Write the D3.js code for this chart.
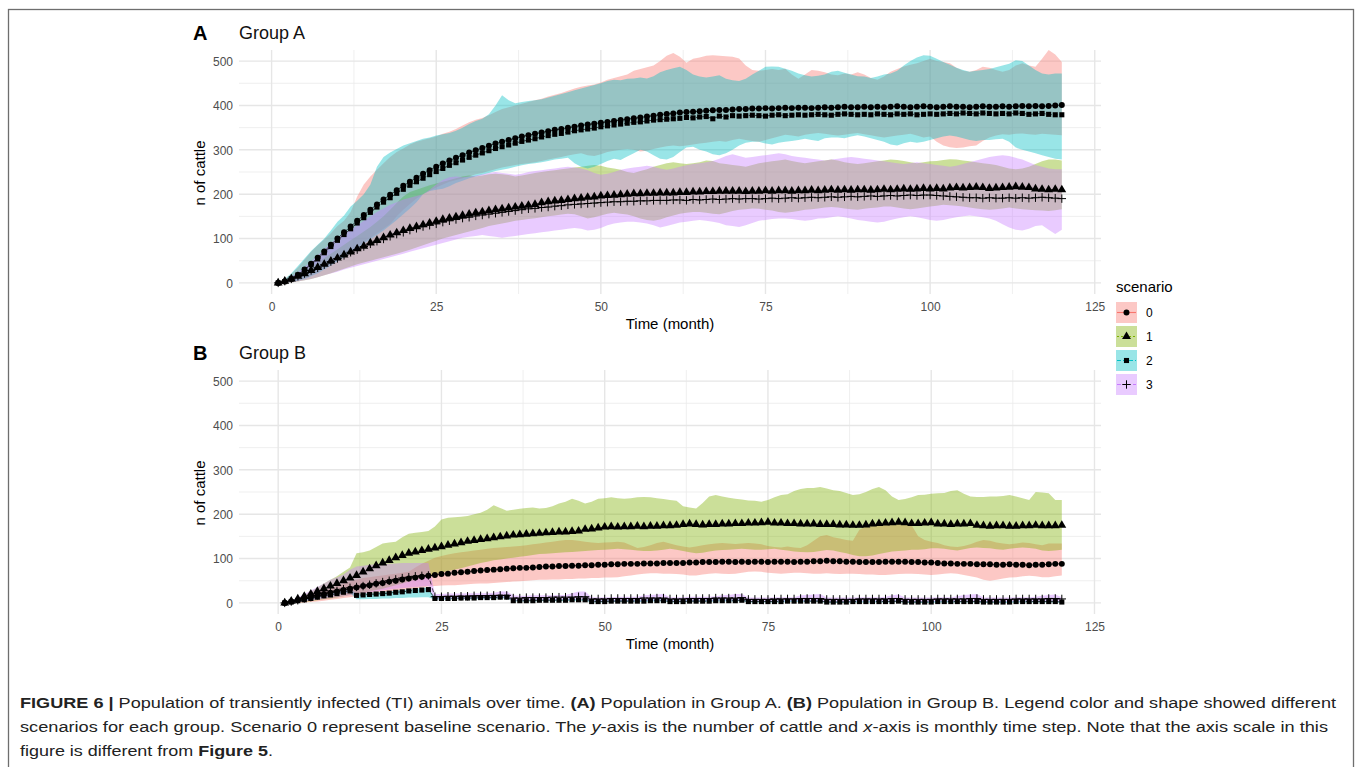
<!DOCTYPE html>
<html>
<head>
<meta charset="utf-8">
<title>Figure 6 - TI population</title>
<script src="https://cdnjs.cloudflare.com/ajax/libs/d3/7.8.5/d3.min.js"></script>
<style>
  body { margin: 0; background: #fff; }
  svg { display: block; font-family: "Liberation Sans", Arial, sans-serif; }
</style>
</head>
<body>
<script>
// months 1..120 on the x axis
var months = d3.range(1, 121);
var scenarios = ["0", "1", "2", "3"];
var colors = ["#F8766D", "#7CAE00", "#00BFC4", "#C77CFF"];
var yTicks = [0, 100, 200, 300, 400, 500];
var xTicks = [0, 25, 50, 75, 100, 125];

// ---- Group A: means ----
var aMean0 = [0,3,9,18,30,43,57,71,86,100, 114,127,140,153,165,177,188,199,209,219,
  228,237,246,254,262,269,276,282,288,294, 299,304,309,314,318,322,326,330,333,336,
  339,342,345,347,350,352,355,357,359,361, 363,365,367,369,371,373,375,377,379,381,
  382,384,385,386,387,388,389,390,390,391, 392,392,393,393,394,393,394,395,394,395,
  395,394,395,396,395,396,397,396,396,397, 396,397,396,397,398,397,396,397,398,397,
  396,397,398,397,397,396,397,398,397,397, 398,397,398,399,398,399,398,399,400,401];
var aMean1 = [0,4,9,15,21,28,35,42,49,56, 63,70,77,83,90,96,102,108,113,118,
  123,127,131,135,139,143,146,149,152,155, 158,160,163,165,167,169,171,173,175,177,
  181,183,185,186,188,190,191,193,194,196, 197,198,199,200,201,201,202,202,203,203,
  203,204,204,205,205,206,206,207,207,207, 207,206,207,207,208,207,208,208,207,208,
  208,209,208,209,210,209,210,209,210,210, 209,210,211,210,211,212,211,212,213,212,
  213,212,214,215,214,215,216,215,213,214, 215,216,217,216,215,212,211,210,211,210];
var aMean2 = [0,3,9,18,29,41,54,68,82,96, 109,122,135,147,159,171,182,192,202,211,
  220,228,236,244,251,258,265,271,277,283, 288,293,298,303,307,311,315,319,322,325,
  329,332,335,337,340,343,345,347,349,352, 354,356,358,360,362,363,365,367,368,369,
  370,371,373,372,374,375,370,376,374,377, 376,377,378,377,376,378,379,377,378,379,
  378,379,380,379,378,380,381,380,379,380, 379,381,380,379,381,380,381,379,380,381,
  380,381,382,381,383,382,381,383,382,381, 382,381,383,382,380,381,382,380,379,379];
var aMean3 = [0,4,9,15,21,28,34,41,48,55, 62,69,75,82,88,94,99,105,110,114,
  119,123,127,130,133,137,140,143,146,148, 151,153,155,157,159,161,163,165,167,168,
  170,171,173,174,176,177,178,179,180,181, 182,183,183,184,184,185,185,186,186,186,
  187,187,186,188,187,188,189,188,189,190, 189,190,190,189,190,191,190,191,192,191,
  192,193,192,193,194,193,194,195,194,195, 196,195,196,197,196,197,198,197,198,198,
  197,196,195,194,193,192,192,191,192,191, 191,192,191,192,191,192,193,192,191,190];

// ---- Group A: ribbon bounds ----
var aLo0 = [0,0,2,5,10,16,24,33,42,52, 62,72,82,92,102,112,122,133,150,165,
  178,190,200,208,215,222,228,232,236,240, 245,248,252,256,260,263,266,268,270,272,
  275,278,281,284,287,290,292,288,286,290, 295,298,300,302,300,296,298,302,305,308,
  310,308,310,312,314,316,318,320,318,322, 325,322,320,318,322,326,330,334,332,330,
  334,336,338,336,334,332,334,336,338,335, 333,330,328,330,332,334,336,332,328,330,
  318,310,306,304,305,308,310,320,328,332, 335,334,336,337,335,334,336,335,334,333];
var aHi0 = [0,8,20,35,52,70,85,98,112,128, 140,160,195,222,240,255,270,284,295,303,
  312,318,322,326,330,336,341,347,355,362, 368,372,378,385,392,396,400,404,408,412,
  415,420,424,428,433,438,442,445,447,452, 458,462,466,470,478,482,486,490,500,512,
  518,510,496,505,508,512,513,512,511,510, 506,490,480,478,480,482,480,483,470,460,
  470,480,478,475,470,468,472,470,475,470, 462,458,465,476,482,488,492,495,500,505,
  500,498,495,485,478,476,480,487,485,480, 476,480,490,495,490,487,505,525,515,498];
var aLo1 = [0,0,1,3,6,9,13,17,22,27, 32,37,42,46,50,54,58,62,66,70,
  75,80,85,90,95,100,104,108,112,116, 120,124,128,131,134,137,140,142,144,146,
  148,150,152,154,156,155,150,145,148,152, 156,158,156,154,150,145,142,140,143,148,
  152,156,158,160,160,158,156,155,158,162, 165,166,168,167,165,163,160,158,160,162,
  165,166,168,170,171,170,168,166,165,167, 169,170,172,172,170,168,166,168,170,172,
  174,176,175,174,172,170,168,166,165,166, 168,170,168,166,165,164,163,162,164,166];
var aHi1 = [0,6,12,20,28,37,46,56,66,76, 86,96,106,116,126,138,150,165,180,195,
  205,210,215,220,224,228,232,236,240,242, 240,242,245,246,245,243,240,242,245,248,
  250,252,254,256,258,260,262,264,266,264, 260,258,255,250,248,252,256,262,266,270,
  272,270,268,270,272,276,275,270,268,266, 264,262,266,270,272,274,276,278,275,272,
  270,272,274,276,278,276,272,270,268,270, 272,274,276,278,277,275,272,270,272,274,
  275,277,279,278,276,274,272,270,268,266, 262,258,256,258,262,268,274,278,278,276];
var aLo2 = [0,0,2,5,9,15,22,30,39,48, 58,68,78,88,98,108,118,130,142,155,
  168,182,200,207,210,212,218,225,230,236, 240,244,248,252,255,258,262,265,268,270,
  272,275,278,280,282,270,262,258,262,268, 275,280,277,285,292,300,296,288,280,278,
  284,295,305,307,300,296,290,288,292,300, 310,316,318,318,314,312,316,318,320,322,
  325,322,320,326,328,328,326,330,333,330, 326,322,318,312,310,315,318,316,318,322,
  326,330,332,330,326,322,320,322,322,324, 325,318,305,300,296,292,288,284,280,278];
var aHi2 = [0,9,22,38,55,72,86,100,118,138, 152,172,185,200,222,262,284,294,302,310,
  315,320,325,328,332,335,338,343,350,358, 365,370,380,400,423,412,405,408,410,412,
  414,418,422,426,430,434,438,442,446,450, 455,458,457,460,461,463,461,466,475,480,
  484,487,480,470,465,463,465,468,460,457, 455,460,470,478,487,488,487,483,478,472,
  468,465,467,470,476,478,474,470,466,465, 462,465,470,472,478,490,500,508,513,512,
  505,498,492,485,480,476,478,480,482,486, 490,494,502,500,490,480,472,470,472,472];
var aLo3 = [0,0,1,3,6,9,13,17,21,25, 30,34,38,42,46,50,54,58,62,66,
  70,74,78,82,86,90,94,98,102,104, 106,108,106,104,102,104,106,108,110,112,
  114,116,118,120,122,124,122,118,120,124, 130,134,136,138,138,136,134,130,125,128,
  132,136,138,140,142,140,138,135,130,128, 126,130,135,140,142,144,145,145,144,142,
  140,142,145,146,148,150,148,145,142,140, 138,136,138,142,145,148,150,148,145,142,
  140,142,145,148,150,152,150,148,145,140, 132,125,120,118,122,128,130,120,110,120];
var aHi3 = [0,6,14,24,36,48,62,76,90,102, 112,120,130,140,150,160,168,176,182,188,
  192,196,200,210,222,232,238,240,238,240, 242,245,248,250,248,246,244,246,250,252,
  254,256,258,260,262,260,258,254,248,244, 246,250,255,258,260,262,264,262,258,255,
  258,262,265,268,270,272,275,280,286,290, 286,282,284,286,288,290,292,290,286,284,
  282,280,278,276,278,280,282,284,282,280, 278,276,274,272,270,268,270,272,270,268,
  266,264,262,264,268,272,276,280,284,286, 288,286,282,278,272,266,262,258,256,256];

// ---- Group B: means ----
var bMean0 = [0,3,6,10,13,17,20,23,26,29, 32,35,38,40,43,45,48,50,53,55,
  57,59,61,63,65,66,68,69,70,72, 73,74,75,76,77,78,79,79,80,81,
  82,82,83,83,84,84,85,85,86,86, 87,87,88,88,88,89,89,89,90,90,
  90,90,91,91,92,92,92,93,93,92, 93,92,93,93,92,93,93,93,92,93,
  93,94,94,95,94,94,93,93,92,92, 92,92,93,93,93,93,92,92,91,91,
  90,89,89,88,88,88,87,87,87,86, 86,87,86,86,85,86,86,87,88,88];
var bMean1 = [0,4,9,15,20,26,32,38,44,50, 56,62,70,77,84,90,96,102,107,112,
  115,118,121,124,127,130,133,136,139,141, 143,145,147,149,151,153,154,155,156,157,
  158,159,160,160,161,162,166,167,169,171, 172,171,172,172,173,172,173,173,174,174,
  175,177,178,177,176,177,177,178,178,179, 179,180,180,181,182,180,180,179,179,178,
  178,178,177,177,177,176,176,175,175,176, 178,179,180,181,182,181,179,179,180,181,
  178,178,177,178,178,179,175,174,173,174, 174,173,173,174,174,175,174,174,174,175];
var bMean2 = [0,2,5,7,10,13,16,18,21,24, 27,17,18,19,20,21,22,24,25,27,
  28,29,30,10,10,10,10,11,11,11, 12,12,12,13,13,5,5,5,5,6,
  6,6,6,6,7,7,7,3,3,3, 4,4,4,4,4,4,5,5,5,3,
  3,3,4,4,4,4,5,5,5,5, 6,3,3,3,3,3,3,4,4,4,
  4,4,4,2,2,2,2,3,3,3, 3,3,3,3,4,2,2,2,2,2,
  3,3,3,3,3,3,3,2,2,2, 2,2,3,3,3,3,3,3,3,2];
var bMean3 = [0,3,6,10,13,17,20,24,27,31, 34,36,38,41,44,47,50,53,56,58,
  60,61,62,14,14,15,15,15,15,16, 16,16,17,17,17,11,11,12,12,12,
  12,13,13,13,13,14,14,9,9,9, 10,10,10,10,10,11,11,11,11,9,
  9,9,10,10,10,10,11,11,11,11, 12,8,8,8,8,9,9,9,9,10,
  10,10,10,8,8,8,8,8,9,9, 9,9,9,10,10,8,8,8,8,8,
  9,9,9,9,9,10,10,8,8,8, 8,8,9,9,9,9,9,10,10,9];

// ---- Group B: ribbon bounds ----
var bLo0 = [0,0,0,1,2,3,5,7,9,11, 13,15,17,19,21,23,25,27,29,31,
  33,35,37,38,39,40,40,41,42,43, 44,44,45,46,47,48,49,50,51,52,
  52,53,53,54,54,55,55,56,56,57, 57,58,60,62,64,66,67,67,66,66,
  65,64,62,62,64,66,67,66,65,66, 68,70,71,70,68,67,66,67,68,68,
  67,66,66,67,66,65,66,66,65,64, 64,63,63,64,65,66,66,65,64,63,
  64,66,67,66,63,60,57,52,50,52, 55,57,58,60,61,60,58,58,60,62];
var bHi0 = [0,4,8,13,18,23,28,33,38,44, 48,52,56,58,60,62,64,66,68,70,
  80,88,95,102,106,109,112,114,116,118, 120,122,124,125,126,127,128,130,132,134,
  136,138,140,142,142,140,138,136,135,136, 137,138,136,130,124,126,130,135,138,134,
  130,127,125,127,130,132,134,135,134,133, 134,135,134,132,128,126,125,127,125,124,
  130,140,150,153,148,145,142,140,165,172, 175,177,178,179,178,176,175,150,142,138,
  135,130,127,126,128,132,138,142,140,136, 134,132,134,136,135,132,130,134,134,134];
var bLo1 = [0,0,1,2,4,6,8,10,12,15, 18,20,23,26,29,32,36,40,44,48,
  52,56,60,64,68,72,75,78,82,86, 90,93,96,98,100,102,104,106,108,110,
  111,112,113,114,115,116,117,118,119,120, 121,122,121,120,118,117,117,118,120,122,
  120,117,114,112,113,116,118,119,120,121, 122,121,120,120,121,122,120,118,116,115,
  114,115,117,119,118,115,112,108,105,105, 107,110,113,116,117,118,120,120,121,123,
  123,122,120,118,121,124,125,124,123,121, 120,122,124,125,124,122,118,117,118,120];
var bHi1 = [0,4,10,18,26,35,44,52,60,70, 80,112,114,118,126,134,136,138,148,156,
  158,160,162,172,188,192,193,194,196,200, 203,210,220,214,208,210,212,214,215,213,
  214,218,224,228,235,230,224,228,235,236, 238,236,235,236,238,239,238,236,234,232,
  230,218,215,213,225,240,243,240,237,235, 233,231,230,228,232,238,243,245,252,257,
  259,259,261,258,254,252,248,243,245,250, 257,261,254,240,232,234,238,243,244,246,
  247,248,252,254,246,240,239,239,240,240, 241,243,240,236,232,250,249,247,232,232];
var bLo2 = [0,0,2,4,7,10,13,15,18,21, 23,8,8,9,9,10,10,11,11,12,
  12,13,13,7,7,7,8,8,8,8, 9,9,9,10,10,3,3,3,3,4,
  4,4,4,4,5,5,5,1,1,1, 2,2,2,2,2,2,3,3,3,1,
  1,1,2,2,2,2,3,3,3,3, 4,1,1,1,1,1,1,2,2,2,
  2,2,2,0,0,0,0,1,1,1, 1,1,1,1,2,0,0,0,0,0,
  1,1,1,1,1,1,1,0,0,0, 0,0,1,1,1,1,1,1,1,0];
var bHi2 = [0,3,6,9,12,15,18,22,25,28, 30,21,22,23,24,25,26,28,29,31,
  32,33,34,12,12,12,13,13,13,14, 14,14,15,15,15,7,7,7,8,8,
  8,8,9,9,9,9,9,6,6,6, 7,7,7,7,7,7,8,8,8,6,
  6,6,7,7,7,7,8,8,8,8, 9,5,5,5,5,5,6,6,6,6,
  6,6,6,4,4,4,4,5,5,5, 5,5,5,6,6,4,4,4,4,4,
  5,5,5,5,5,5,5,4,4,4, 4,4,5,5,5,5,5,5,5,4];
var bLo3 = [0,0,1,3,5,7,9,11,13,15, 17,20,22,24,26,28,30,32,33,35,
  36,37,38,8,8,9,9,9,9,10, 10,10,10,11,11,5,5,5,6,6,
  6,6,6,7,7,7,7,3,3,3, 4,4,4,4,4,4,5,5,5,3,
  3,3,4,4,4,4,5,5,5,5, 6,3,3,3,3,3,3,4,4,4,
  4,4,4,2,2,2,2,3,3,3, 3,3,3,3,4,2,2,2,2,2,
  3,3,3,3,3,3,3,2,2,2, 2,2,3,3,3,3,3,3,3,2];
var bHi3 = [0,5,12,20,28,36,44,52,58,64, 75,82,84,86,87,88,88,89,90,90,
  90,90,90,20,20,21,21,21,22,22, 22,22,23,26,26,17,16,16,17,17,
  17,17,18,18,22,26,26,13,13,13, 13,14,14,14,14,17,18,19,20,13,
  13,13,14,14,14,14,15,17,18,20, 20,12,12,12,12,13,13,13,13,17,
  18,19,20,12,12,12,12,12,13,13, 13,13,14,17,19,12,12,12,12,12,
  13,13,13,15,18,19,20,12,12,12, 12,12,13,13,13,14,16,18,19,13];

var W = 1360, H = 767;
var svg = d3.select("body").append("svg")
    .attr("width", W)
    .attr("height", H);

// figure frame
svg.append("rect")
    .attr("x", 8.5).attr("y", 9.5)
    .attr("width", 1345).attr("height", 800)
    .attr("fill", "none")
    .attr("stroke", "#6e6e6e")
    .attr("stroke-width", 1.3);

function plusPath(s) {
  return "M" + (-s) + ",0H" + s + "M0," + (-s) + "V" + s;
}
var symbols = [
  d3.symbol().type(d3.symbolCircle).size(28)(),
  d3.symbol().type(d3.symbolTriangle).size(34)(),
  d3.symbol().type(d3.symbolSquare).size(26)(),
  plusPath(4.2)
];
var dashes = [null, "2,2", "4,2", "4,4"];

function drawPanel(p) {
  var x = d3.scaleLinear().domain(p.xDomain).range([239, 1101]);
  var y = d3.scaleLinear().domain([-25, 525]).range([p.top + 244, p.top]);
  var g = svg.append("g");

  // minor grid
  var xMinor = d3.range(12.5, 125, 25);
  var yMinor = d3.range(50, 500, 100);
  g.selectAll(".gxm").data(xMinor).enter().append("line")
      .attr("x1", function(d) { return x(d); }).attr("x2", function(d) { return x(d); })
      .attr("y1", p.top).attr("y2", p.top + 244)
      .attr("stroke", "#ebebeb").attr("stroke-width", 0.8);
  g.selectAll(".gym").data(yMinor).enter().append("line")
      .attr("x1", 239).attr("x2", 1101)
      .attr("y1", function(d) { return y(d); }).attr("y2", function(d) { return y(d); })
      .attr("stroke", "#ebebeb").attr("stroke-width", 0.8);
  // major grid
  g.selectAll(".gx").data(xTicks).enter().append("line")
      .attr("x1", function(d) { return x(d); }).attr("x2", function(d) { return x(d); })
      .attr("y1", p.top).attr("y2", p.top + 244)
      .attr("stroke", "#e6e6e6").attr("stroke-width", 1.4);
  g.selectAll(".gy").data(yTicks).enter().append("line")
      .attr("x1", 239).attr("x2", 1101)
      .attr("y1", function(d) { return y(d); }).attr("y2", function(d) { return y(d); })
      .attr("stroke", "#e6e6e6").attr("stroke-width", 1.4);

  // tick labels
  var xAxis = d3.axisBottom(x).tickValues(xTicks).tickSize(0).tickPadding(0);
  var gx = g.append("g").attr("transform", "translate(0," + (p.top + 261) + ")").call(xAxis);
  var yAxis = d3.axisLeft(y).tickValues(yTicks).tickSize(0).tickPadding(0);
  var gy = g.append("g").attr("transform", "translate(233,0)").call(yAxis);
  [gx, gy].forEach(function(a) {
    a.select(".domain").remove();
    a.selectAll("text").attr("fill", "#4d4d4d")
      .style("font-size", "12px").style("font-family", "Liberation Sans, Arial, sans-serif");
  });
  gx.selectAll("text").attr("dy", "0");
  gy.selectAll("text").attr("dy", "0.35em");

  // ribbons
  var area = d3.area()
      .x(function(d) { return x(d.m); })
      .y0(function(d) { return y(d.lo); })
      .y1(function(d) { return y(d.hi); });
  p.series.forEach(function(s, i) {
    var rows = months.map(function(m, k) { return { m: m, lo: s.lo[k], hi: s.hi[k] }; });
    g.append("path").datum(rows)
        .attr("d", area)
        .attr("fill", colors[i])
        .attr("fill-opacity", 0.4);
  });

  // lines
  var line = d3.line()
      .x(function(d) { return x(d.m); })
      .y(function(d) { return y(d.v); });
  p.series.forEach(function(s, i) {
    var rows = months.map(function(m, k) { return { m: m, v: s.mean[k] }; });
    g.append("path").datum(rows)
        .attr("d", line)
        .attr("fill", "none")
        .attr("stroke", "#000")
        .attr("stroke-width", 0.7)
        .attr("stroke-dasharray", dashes[i]);
  });

  // points
  p.series.forEach(function(s, i) {
    var rows = months.map(function(m, k) { return { m: m, v: s.mean[k] }; });
    g.selectAll(".pt" + i).data(rows).enter().append("path")
        .attr("transform", function(d) { return "translate(" + x(d.m) + "," + y(d.v) + ")"; })
        .attr("d", symbols[i])
        .attr("fill", i === 3 ? "none" : "#000")
        .attr("stroke", i === 3 ? "#000" : "none")
        .attr("stroke-width", 1);
  });

  // titles
  g.append("text").attr("x", 193).attr("y", p.top - 10)
      .style("font-size", "20px").style("font-weight", "bold").text(p.tag);
  g.append("text").attr("x", 239).attr("y", p.top - 11)
      .style("font-size", "18px").attr("fill", "#111").text(p.title);
  g.append("text").attr("x", 670).attr("y", p.top + 279)
      .attr("text-anchor", "middle").style("font-size", "15px").text("Time (month)");
  g.append("text")
      .attr("transform", "translate(205," + (p.top + 123) + ") rotate(-90)")
      .attr("text-anchor", "middle").style("font-size", "15px").text("n of cattle");
}

drawPanel({
  top: 50, tag: "A", title: "Group A", xDomain: [-4.95, 125.95],
  series: [
    { mean: aMean0, lo: aLo0, hi: aHi0 },
    { mean: aMean1, lo: aLo1, hi: aHi1 },
    { mean: aMean2, lo: aLo2, hi: aHi2 },
    { mean: aMean3, lo: aLo3, hi: aHi3 }
  ]
});
drawPanel({
  top: 370, tag: "B", title: "Group B", xDomain: [-6, 126],
  series: [
    { mean: bMean0, lo: bLo0, hi: bHi0 },
    { mean: bMean1, lo: bLo1, hi: bHi1 },
    { mean: bMean2, lo: bLo2, hi: bHi2 },
    { mean: bMean3, lo: bLo3, hi: bHi3 }
  ]
});

// legend
var leg = svg.append("g").attr("transform", "translate(1116,0)");
leg.append("text").attr("x", 0).attr("y", 292).style("font-size", "15px").text("scenario");
scenarios.forEach(function(s, i) {
  var ky = 302 + i * 24;
  leg.append("rect").attr("x", 0).attr("y", ky).attr("width", 21).attr("height", 21)
      .attr("fill", colors[i]).attr("fill-opacity", 0.4);
  leg.append("line").attr("x1", 1).attr("x2", 20).attr("y1", ky + 10.5).attr("y2", ky + 10.5)
      .attr("stroke", colors[i]).attr("stroke-width", 1.1)
      .attr("stroke-dasharray", dashes[i]);
  leg.append("path").attr("transform", "translate(10.5," + (ky + 10.5) + ")")
      .attr("d", symbols[i])
      .attr("fill", i === 3 ? "none" : "#000")
      .attr("stroke", i === 3 ? "#000" : "none");
  leg.append("text").attr("x", 30).attr("y", ky + 15).style("font-size", "12px").text(s);
});

// caption
var cap = svg.append("g")
    .style("font-family", "'Liberation Sans Narrow', 'Liberation Sans', Arial, sans-serif")
    .style("font-size", "15.5px")
    .attr("fill", "#222");
var capLines = [
  { y: 708, len: 1316, parts: [
    ["FIGURE 6 |", "b"], [" Population of transiently infected (TI) animals over time. ", ""],
    ["(A)", "b"], [" Population in Group A. ", ""], ["(B)", "b"],
    [" Population in Group B. Legend color and shape showed different", ""]] },
  { y: 732, len: 1308, parts: [
    ["scenarios for each group. Scenario 0 represent baseline scenario. The ", ""], ["y", "i"],
    ["-axis is the number of cattle and ", ""], ["x", "i"],
    ["-axis is monthly time step. Note that the axis scale in this", ""]] },
  { y: 756, len: 253, parts: [
    ["figure is different from ", ""], ["Figure 5", "b"], [".", ""]] }
];
capLines.forEach(function(l) {
  var t = cap.append("text").attr("x", 20).attr("y", l.y)
      .attr("textLength", l.len).attr("lengthAdjust", "spacingAndGlyphs");
  l.parts.forEach(function(pt) {
    var ts = t.append("tspan").text(pt[0]);
    if (pt[1] === "b") ts.style("font-weight", "bold");
    if (pt[1] === "i") ts.style("font-style", "italic");
  });
});
</script>
</body>
</html>
